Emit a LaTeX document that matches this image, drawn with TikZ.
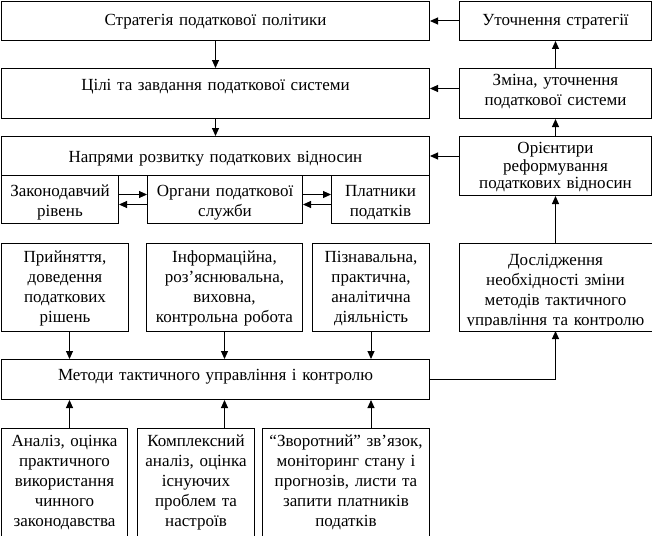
\documentclass[tikz,border=0pt]{standalone}
\usepackage{fontspec}
\setmainfont{Liberation Serif}
\usetikzlibrary{arrows.meta}

\begin{document}
\begin{tikzpicture}[x=1pt,y=-1pt,font=\fontsize{17}{20}\selectfont,
  box/.style={rectangle,draw,line width=1pt,anchor=north west,align=center,inner xsep=0pt,inner ysep=0pt},
  arr/.style={-{Triangle[length=8pt,width=7pt]},line width=1pt}]
\useasboundingbox (0,0) rectangle (652,535);
% top levels
\node[box,text width=428pt,text height=24pt,text depth=15pt](strat) at (1,1){Стратегія податкової політики};
\node[box,text width=192pt,text height=24pt,text depth=15pt](utoch) at (459,1){Уточнення стратегії};
\node[box,text width=428pt,text height=22pt,text depth=28pt](cili) at (1,68){Цілі та завдання податкової системи};
\node[box,text width=192pt,text height=17pt,text depth=33pt](zmina) at (459,68){Зміна, уточнення\\податкової системи};
\node[box,text width=428pt,text height=26pt,text depth=13pt](napr) at (1,136){Напрями розвитку податкових відносин};
\node[box,text width=192pt,text height=17pt,text depth=42pt,font=\fontsize{17}{17.5}\selectfont](orient) at (459,136){Орієнтири\\реформування\\податкових відносин};
% subjects
\node[box,text width=117pt,text height=21pt,text depth=27pt](zak) at (1,175){Законодавчий\\рівень};
\node[box,text width=155pt,text height=21pt,text depth=27pt](org) at (147,175){Органи податкової\\служби};
\node[box,text width=98pt,text height=21pt,text depth=27pt](platn) at (331,175){Платники\\податків};
% directions of work
\node[box,text width=127pt,text height=19pt,text depth=69pt](prin) at (1,243){Прийняття,\\доведення\\податкових\\рішень};
\node[box,text width=156pt,text height=19pt,text depth=69pt](inf) at (146,243){Інформаційна,\\роз’яснювальна,\\виховна,\\контрольна робота};
\node[box,text width=117pt,text height=19pt,text depth=69pt](pizn) at (312,243){Пізнавальна,\\практична,\\аналітична\\діяльність};
\begin{scope}
\clip (459,243) rectangle (651,325);
\node[box,draw=none,text width=192pt,text height=22pt,text depth=65pt](dosl) at (459,243){Дослідження\\необхідності зміни\\методів тактичного\\управління та контролю};
\end{scope}
\draw[line width=1pt] (dosl.north west) rectangle (dosl.south east);
\node[box,text width=428pt,text height=21pt,text depth=19pt](metod) at (1,359){Методи тактичного управління і контролю};
% sources
\node[box,text width=126pt,text height=18pt,text depth=91pt](an) at (1,428){Аналіз, оцінка\\практичного\\використання\\чинного\\законодавства};
\node[box,text width=117pt,text height=18pt,text depth=91pt](kompl) at (137,428){Комплексний\\аналіз, оцінка\\існуючих\\проблем та\\настроїв};
\node[box,text width=167pt,text height=18pt,text depth=91pt](zvor) at (262,428){“Зворотний” зв’язок,\\моніторинг стану і\\прогнозів, листи та\\запити платників\\податків};
% arrows
\draw[arr](strat)--(cili);
\draw[arr](cili)--(napr);
\draw[arr](utoch.west)--(utoch.west -| strat.east);
\draw[arr]([yshift=5pt]zmina.west)--([yshift=5pt]zmina.west -| cili.east);
\draw[arr](napr.east -| orient.west)--(napr.east);
\draw[arr](zmina)--(utoch);
\draw[arr](orient)--(zmina);
\draw[arr](dosl)--(orient);
\draw[arr]([yshift=5pt]zak.east)--([yshift=5pt]zak.east -| org.west);
\draw[arr]([yshift=-5pt]org.west)--([yshift=-5pt]org.west -| zak.east);
\draw[arr]([yshift=5pt]org.east)--([yshift=5pt]org.east -| platn.west);
\draw[arr]([yshift=-5pt]platn.west)--([yshift=-5pt]platn.west -| org.east);
\draw[arr]([xshift=4.5pt]prin.south)--([xshift=4.5pt]prin.south |- metod.north);
\draw[arr](inf)--(inf |- metod.north);
\draw[arr](pizn)--(pizn |- metod.north);
\draw[arr]([xshift=5pt]an.north)--([xshift=5pt]an.north |- metod.south);
\draw[arr](kompl.north -| inf.south)--(inf.south |- metod.south);
\draw[arr](zvor.north -| pizn.south)--(pizn.south |- metod.south);
\draw[arr](metod.east)--(metod.east -| dosl.south)--(dosl.south);
\end{tikzpicture}
\end{document}
